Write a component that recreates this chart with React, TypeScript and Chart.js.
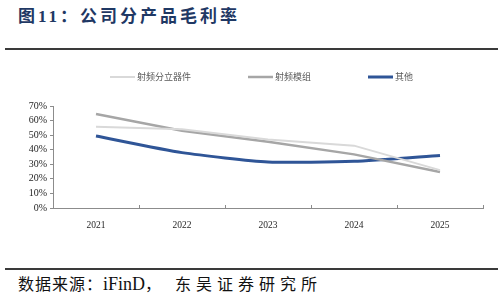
import React, { useEffect, useRef } from "react";
import { Chart, registerables } from "chart.js";

Chart.register(...registerables);

const years = ["2021", "2022", "2023", "2024", "2025"];
const discreteDevices = [55.8, 54.0, 47.0, 42.8, 26.0];
const rfModules = [64.5, 53.0, 45.5, 36.8, 24.7];
const others = [49.4, 38.0, 31.6, 32.0, 36.1];
const seriesNames = ["射频分立器件", "射频模组", "其他"];
const yTicks = [0, 10, 20, 30, 40, 50, 60, 70];

const COLORS = ["#d9d9d9", "#a6a6a6", "#2f5597"];
const AXIS = "#8c8c8c";
const SERIF = '"Liberation Serif", "Noto Sans CJK SC", serif';

// Legend drawn on the canvas: short line swatch followed by the label
const lineLegend = {
  id: "lineLegend",
  afterDraw(chart: any) {
    const ctx = chart.ctx;
    ctx.save();
    ctx.font = '9px "Noto Sans CJK SC", sans-serif';
    ctx.textBaseline = "middle";
    let x = 110;
    const y = 17;
    chart.data.datasets.forEach((ds: any) => {
      ctx.strokeStyle = ds.borderColor;
      ctx.lineWidth = ds.borderWidth;
      ctx.beginPath();
      ctx.moveTo(x, y);
      ctx.lineTo(x + 25, y);
      ctx.stroke();
      ctx.fillStyle = "#595959";
      ctx.fillText(ds.label, x + 27, y);
      x += 27 + ctx.measureText(ds.label).width + 57;
    });
    ctx.restore();
  },
};

// Category boundary marks on the x axis, pointing into the plot
const xBoundaryTicks = {
  id: "xBoundaryTicks",
  afterDraw(chart: any) {
    const xs = chart.scales.x;
    const area = chart.chartArea;
    const ctx = chart.ctx;
    const step = xs.getPixelForValue(1) - xs.getPixelForValue(0);
    ctx.save();
    ctx.strokeStyle = AXIS;
    ctx.lineWidth = 1;
    for (let i = 0; i <= years.length; i++) {
      const px = Math.round(xs.getPixelForValue(0) - step / 2 + i * step) + 0.5;
      ctx.beginPath();
      ctx.moveTo(px, area.bottom);
      ctx.lineTo(px, area.bottom - 3);
      ctx.stroke();
    }
    ctx.restore();
  },
};

export default function App() {
  const canvasRef = useRef<HTMLCanvasElement>(null);

  useEffect(() => {
    document.body.style.margin = "0";
    const chart = new Chart(canvasRef.current!, {
      type: "line",
      data: {
        labels: years,
        datasets: [
          { label: seriesNames[0], data: discreteDevices, borderColor: COLORS[0], borderWidth: 2, tension: 0, pointRadius: 0 },
          { label: seriesNames[1], data: rfModules, borderColor: COLORS[1], borderWidth: 2.5, tension: 0, pointRadius: 0 },
          { label: seriesNames[2], data: others, borderColor: COLORS[2], borderWidth: 3, tension: 0.2, pointRadius: 0 },
        ],
      },
      options: {
        animation: false,
        responsive: false,
        devicePixelRatio: 1,
        layout: { padding: { top: 46, right: 20, left: 0, bottom: 0 } },
        plugins: { legend: { display: false }, tooltip: { enabled: false } },
        scales: {
          x: {
            offset: true,
            grid: { display: false },
            border: { color: AXIS },
            ticks: { color: "#262626", font: { family: '"Liberation Serif", serif', size: 9.5 }, padding: 4 },
            afterFit(s: any) { s.height = 22; },
          },
          y: {
            min: 0,
            max: 70,
            afterBuildTicks(s: any) { s.ticks = yTicks.map((v) => ({ value: v })); },
            grid: { drawOnChartArea: false, tickLength: 3, color: AXIS },
            border: { color: AXIS },
            ticks: {
              autoSkip: false,
              color: "#262626",
              font: { family: '"Liberation Serif", serif', size: 10 },
              padding: 3,
              callback: (v: any) => `${v}%`,
            },
            afterFit(s: any) { s.width = 53; },
          },
        },
      },
      plugins: [lineLegend, xBoundaryTicks],
    });
    return () => chart.destroy();
  }, []);

  return (
    <div style={{ position: "relative", width: 503, height: 300, background: "#fff", overflow: "hidden" }}>
      <div
        style={{
          position: "absolute", left: 18, top: 5, fontSize: 17, fontWeight: 700, color: "#1f3864",
          letterSpacing: 3, fontFamily: SERIF, whiteSpace: "nowrap", lineHeight: "24px",
        }}
      >
        图11：公司分产品毛利率
      </div>
      <div style={{ position: "absolute", left: 5, top: 48, width: 493, height: 2, background: "#3a3a3a" }} />
      <canvas ref={canvasRef} width={503} height={170} style={{ position: "absolute", left: 0, top: 60 }} />
      <div style={{ position: "absolute", left: 5, top: 268, width: 493, height: 1.5, background: "#3a3a3a" }} />
      <div
        style={{
          position: "absolute", left: 18, top: 273, fontSize: 16, color: "#111",
          fontFamily: SERIF, whiteSpace: "nowrap", lineHeight: "22px",
        }}
      >
        <span style={{ letterSpacing: 1 }}>数据来源：</span>
        <span style={{ fontSize: 18 }}>iFinD</span>
        <span style={{ letterSpacing: 2 }}>，</span>
        <span style={{ letterSpacing: 5, marginLeft: 12 }}>东吴证券研究所</span>
      </div>
    </div>
  );
}
